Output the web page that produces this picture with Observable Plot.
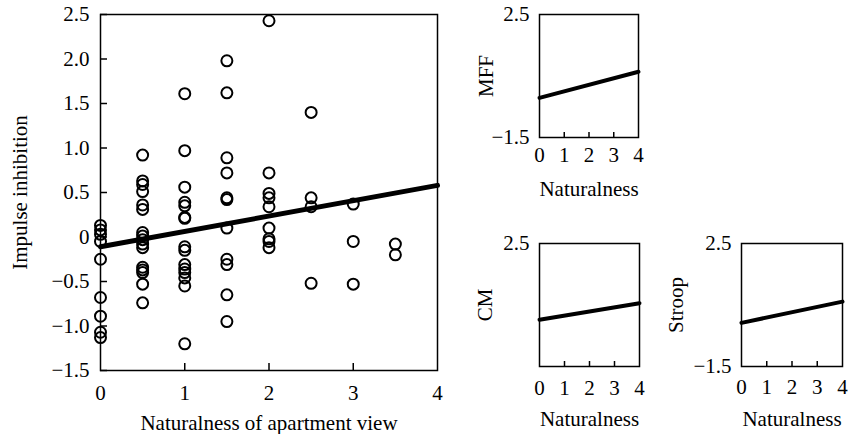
<!DOCTYPE html>
<html><head><meta charset="utf-8">
<script src="https://cdn.jsdelivr.net/npm/d3@7"></script>
<script src="https://cdn.jsdelivr.net/npm/@observablehq/plot@0.6"></script>
<style>
body{margin:0;background:#fff;}
#wrap{position:relative;width:848px;height:434px;overflow:hidden;background:#fff;}
#wrap > svg, #wrap > figure{position:absolute;margin:0;}
</style></head><body><div id="wrap"></div>
<script>
// Main scatter: naturalness of apartment view vs impulse inhibition
const naturalness = [
  0,0,0,0,0,0,0,0,0,
  0.5,0.5,0.5,0.5,0.5,0.5,0.5,0.5,0.5,0.5,0.5,0.5,0.5,0.5,0.5,0.5,
  1,1,1,1,1,1,1,1,1,1,1,1,1,1,1,
  1.5,1.5,1.5,1.5,1.5,1.5,1.5,1.5,1.5,1.5,1.5,
  2,2,2,2,2,2,2,2,2,
  2.5,2.5,2.5,2.5,
  3,3,3,
  3.5,3.5
];
const impulse = [
  0.13,0.08,0.03,-0.05,-0.25,-0.68,-0.89,-1.07,-1.13,
  0.92,0.63,0.59,0.51,0.36,0.31,0.05,0.01,-0.03,-0.08,-0.12,-0.34,-0.37,-0.40,-0.53,-0.74,
  1.61,0.97,0.56,0.39,0.35,0.22,0.21,-0.11,-0.15,-0.31,-0.36,-0.40,-0.46,-0.55,-1.20,
  1.98,1.62,0.89,0.72,0.44,0.42,0.10,-0.25,-0.31,-0.65,-0.95,
  2.43,0.72,0.49,0.44,0.34,0.10,-0.02,-0.05,-0.12,
  1.40,0.44,0.34,-0.52,
  0.37,-0.05,-0.53,
  -0.08,-0.20
];
const fitX = [0, 4];
const fitImpulse = [-0.11, 0.58];

const mainYTicks = [2.5, 2, 1.5, 1, 0.5, 0, -0.5, -1, -1.5];
const mainYTickLabels = ["2.5","2.0","1.5","1.0","0.5","0","−0.5","−1.0","−1.5"];
const xTicks = [0, 1, 2, 3, 4];
const xTickLabels = ["0","1","2","3","4"];
const innerXTicks = [1, 2, 3];
const mainXLabel = "Naturalness of apartment view";
const mainYLabel = "Impulse inhibition";

// Small panels: fitted lines only
const smallNames = ["MFF", "CM", "Stroop"];
const smallFitStart = [-0.21, 0.02, -0.08];
const smallFitEnd = [0.64, 0.56, 0.61];
const smallYTickSets = [[2.5, -1.5], [2.5], [2.5, -1.5]];
const smallYTickLabelSets = [["2.5","−1.5"], ["2.5"], ["2.5","−1.5"]];
const smallXLabel = "Naturalness";

const style = {fontFamily: "'Liberation Serif', 'Times New Roman', serif", fontSize: "21px", color: "#000", background: "transparent", overflow: "visible"};
const wrap = document.getElementById("wrap");

function place(el, left, top) { el.style.left = left + "px"; el.style.top = top + "px"; wrap.appendChild(el); }

// ---- main plot
{
  const W = 450, H = 434, mL = 100, mR = 13, mT = 14, mB = 64;
  const pts = naturalness.map((x, i) => ({x, y: impulse[i]}));
  const fit = fitX.map((x, i) => ({x, y: fitImpulse[i]}));
  const chart = Plot.plot({
    width: W, height: H, marginLeft: mL, marginRight: mR, marginTop: mT, marginBottom: mB,
    x: {domain: [0, 4]}, y: {domain: [-1.5, 2.5]},
    style,
    marks: [
      Plot.tickY(mainYTicks, {y: d => d, stroke: "#000", strokeWidth: 1.5, insetRight: W - mL - mR - 7}),
      Plot.tickX(innerXTicks, {x: d => d, stroke: "#000", strokeWidth: 1.5, insetTop: H - mT - mB - 7}),
      Plot.axisY(mainYTicks, {tickSize: 0, tickPadding: 11, tickFormat: d => mainYTickLabels[mainYTicks.indexOf(d)], label: mainYLabel, labelAnchor: "center", labelOffset: 88, labelArrow: false}),
      Plot.axisX(xTicks, {tickSize: 0, tickPadding: 15, tickFormat: d => xTickLabels[xTicks.indexOf(d)], label: mainXLabel, labelAnchor: "center", labelOffset: 59, labelArrow: false}),
      Plot.dot(pts, {x: "x", y: "y", r: 5.5, stroke: "#000", strokeWidth: 2, fill: "none"}),
      Plot.line(fit, {x: "x", y: "y", stroke: "#000", strokeWidth: 5}),
      Plot.frame({stroke: "#000", strokeWidth: 1.5})
    ]
  });
  place(chart, 0, 0);
}

// ---- small plots
const smallLayout = [
  {left: 460, top: 0, W: 190, H: 200, mL: 79, mR: 12, mT: 14, mB: 63, pad: 10, lOff: 61, xOff: 58},
  {left: 460, top: 220, W: 190, H: 214, mL: 79, mR: 11, mT: 23, mB: 68, pad: 14, lOff: 62, xOff: 59},
  {left: 660, top: 220, W: 188, H: 214, mL: 81, mR: 6, mT: 23, mB: 68, pad: 13, lOff: 73, xOff: 59}
];
smallNames.forEach((name, k) => {
  const L = smallLayout[k];
  const fit = fitX.map((x, i) => ({x, y: i === 0 ? smallFitStart[k] : smallFitEnd[k]}));
  const yt = smallYTickSets[k], yl = smallYTickLabelSets[k];
  const chart = Plot.plot({
    width: L.W, height: L.H, marginLeft: L.mL, marginRight: L.mR, marginTop: L.mT, marginBottom: L.mB,
    x: {domain: [0, 4]}, y: {domain: [-1.5, 2.5]},
    style,
    marks: [
      Plot.tickX(innerXTicks, {x: d => d, stroke: "#000", strokeWidth: 1.5, insetTop: L.H - L.mT - L.mB - 5}),
      Plot.axisY(yt, {tickSize: 0, tickPadding: 10, tickFormat: d => yl[yt.indexOf(d)], label: name, labelAnchor: "center", labelOffset: L.lOff, labelArrow: false}),
      Plot.axisX(xTicks, {tickSize: 0, tickPadding: L.pad, tickFormat: d => xTickLabels[xTicks.indexOf(d)], label: smallXLabel, labelAnchor: "center", labelOffset: L.xOff, labelArrow: false}),
      Plot.line(fit, {x: "x", y: "y", stroke: "#000", strokeWidth: 4}),
      Plot.frame({stroke: "#000", strokeWidth: 1.5})
    ]
  });
  place(chart, L.left, L.top);
});
</script></body></html>
